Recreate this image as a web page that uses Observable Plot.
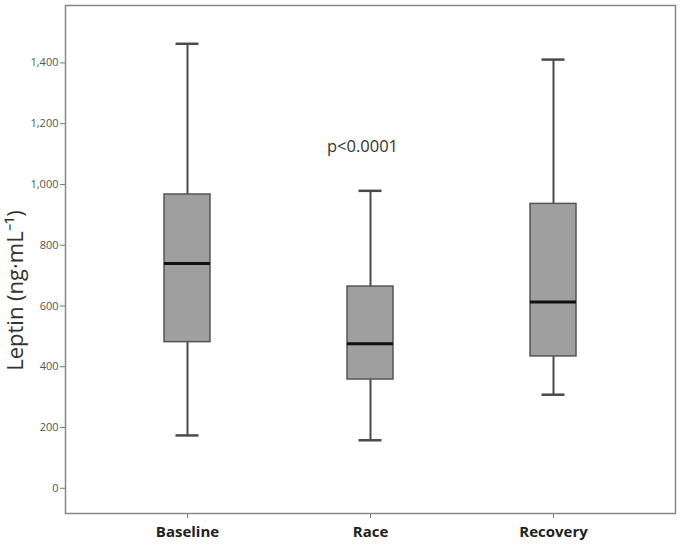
<!DOCTYPE html>
<html><head><meta charset="utf-8">
<script src="https://cdn.jsdelivr.net/npm/d3@7"></script>
<script src="https://cdn.jsdelivr.net/npm/@observablehq/plot@0.6"></script>
<style>body{margin:0;background:#fff}</style>
</head><body><div id="chart"></div>
<script>
const categories = ["Baseline", "Race", "Recovery"];
const whiskerLow = [174, 158, 308];
const q1 = [481, 358, 434];
const median = [740, 476, 613];
const q3 = [967, 664, 936];
const whiskerHigh = [1463, 979, 1411];
const yTicks = [0, 200, 400, 600, 800, 1000, 1200, 1400];
const annotation = [{x: "Race", y: 1125, text: "p<0.0001"}];
const yLabel = "Leptin (ng·mL⁻¹)";

const rows = categories.map((c, i) => ({
  cat: c, lo: whiskerLow[i], q1: q1[i], med: median[i], q3: q3[i], hi: whiskerHigh[i]
}));

const chart = Plot.plot({
  width: 680,
  height: 550,
  marginLeft: 65,
  marginRight: 5,
  marginTop: 5,
  marginBottom: 37,
  style: {fontFamily: "'Open Sans', sans-serif", background: "#fff"},
  x: {type: "band", domain: categories, paddingInner: 0.75, paddingOuter: 0.54, align: 0.5, label: null},
  y: {domain: [-83, 1589], label: null},
  marks: [
    Plot.axisY({ticks: yTicks, tickFormat: d3.format(","), tickSize: 5, tickPadding: 2, fontSize: 11, color: "#555", stroke: "#777", label: null}),
    Plot.axisX({tickSize: 5, tickPadding: 8, fontSize: 15, fontWeight: "bold", color: "#222", stroke: "#777", label: null}),
    Plot.ruleX(rows, {x: "cat", y1: "lo", y2: "q1", stroke: "#4a4a4a", strokeWidth: 2}),
    Plot.ruleX(rows, {x: "cat", y1: "q3", y2: "hi", stroke: "#4a4a4a", strokeWidth: 2}),
    Plot.tickY(rows, {x: "cat", y: "lo", stroke: "#4a4a4a", strokeWidth: 2.5, insetLeft: 11.5, insetRight: 11.5}),
    Plot.tickY(rows, {x: "cat", y: "hi", stroke: "#4a4a4a", strokeWidth: 2.5, insetLeft: 11.5, insetRight: 11.5}),
    Plot.barY(rows, {x: "cat", y1: "q1", y2: "q3", fill: "#9f9f9f", stroke: "#555", strokeWidth: 1.5}),
    Plot.tickY(rows, {x: "cat", y: "med", stroke: "#111", strokeWidth: 3}),
    Plot.text(annotation, {x: "x", y: "y", text: "text", dx: -8, fontSize: 16.5, fill: "#333"}),
    Plot.text([yLabel], {frameAnchor: "left", textAnchor: "middle", dx: -50, dy: 31, rotate: -90, fontSize: 22, fill: "#333", text: d => d}),
    Plot.frame({stroke: "#888", strokeWidth: 1.5})
  ]
});
document.getElementById("chart").appendChild(chart);
</script>
</body></html>
